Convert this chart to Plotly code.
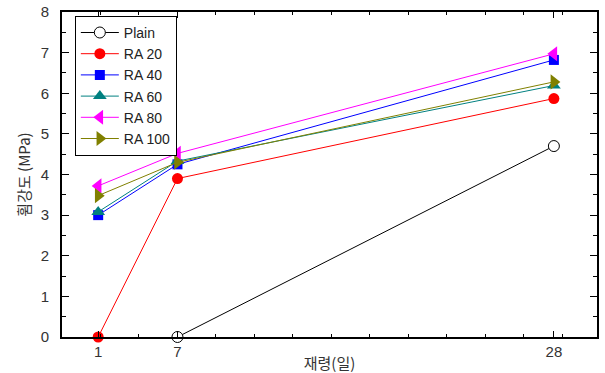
import plotly.graph_objects as go

age_labels = ["1", "7", "28"]
age_pos = [0.94, 3.0, 12.78]

plain = [None, 0.0, 4.7]
ra20 = [0.0, 3.9, 5.87]
ra40 = [3.0, 4.25, 6.82]
ra60 = [3.08, 4.33, 6.19]
ra80 = [3.72, 4.52, 6.97]
ra100 = [3.48, 4.3, 6.28]

series = [
    ("Plain", plain, "black", "circle-open", 11),
    ("RA 20", ra20, "#ff0000", "circle", 11),
    ("RA 40", ra40, "#0000ff", "square", 10),
    ("RA 60", ra60, "#008080", "triangle-up", 12),
    ("RA 80", ra80, "#ff00ff", "triangle-left", 13),
    ("RA 100", ra100, "#808000", "triangle-right", 13),
]

fig = go.Figure()
for name, vals, color, sym, size in series:
    mk = dict(symbol=sym, size=size, color=color)
    if sym == "circle-open":
        mk = dict(symbol="circle", size=size, color="white", line=dict(color="black", width=1))
    fig.add_trace(go.Scatter(x=age_pos, y=vals, name=name, mode="lines+markers",
                             line=dict(color=color, width=1), marker=mk, cliponaxis=False))

fig.update_layout(
    width=605, height=373,
    margin=dict(l=62, r=8, t=12, b=36),
    paper_bgcolor="white", plot_bgcolor="white",
    font=dict(family="Liberation Sans, Arial", size=15, color="#333"),
    showlegend=True,
    legend=dict(x=0.024, y=0.988, xanchor="left", yanchor="top",
                bgcolor="white", bordercolor="black", borderwidth=1,
                font=dict(size=14, color="#222"), tracegroupgap=0,
                itemwidth=38),
)
fig.update_xaxes(range=[0, 13.9], tickvals=age_pos, ticktext=age_labels,
                 automargin=False, ticklabelstandoff=0,
                 ticks="inside", ticklen=6, tickcolor="black", tickwidth=1,
                 minor=dict(tickvals=list(range(1, 14)), ticks="inside", ticklen=3, tickcolor="black"),
                 showline=True, linecolor="black", linewidth=2, mirror="ticks",
                 showgrid=False, zeroline=False,
                 title=dict(text="재령(일)", font=dict(family="Noto Sans CJK KR", size=15, color="#333"), standoff=0))
fig.update_yaxes(range=[0, 8], tickvals=list(range(0, 9)),
                 automargin=False, ticklabelstandoff=8,
                 ticks="inside", ticklen=7, tickcolor="black", tickwidth=1,
                 minor=dict(dtick=0.5, ticks="inside", ticklen=4, tickcolor="black"),
                 showline=True, linecolor="black", linewidth=2, mirror="ticks",
                 showgrid=False, zeroline=False,
                 title=dict(text="휨강도 (MPa)", font=dict(family="Noto Sans CJK KR", size=15, color="#333"), standoff=6))

fig.write_html("out.html")
